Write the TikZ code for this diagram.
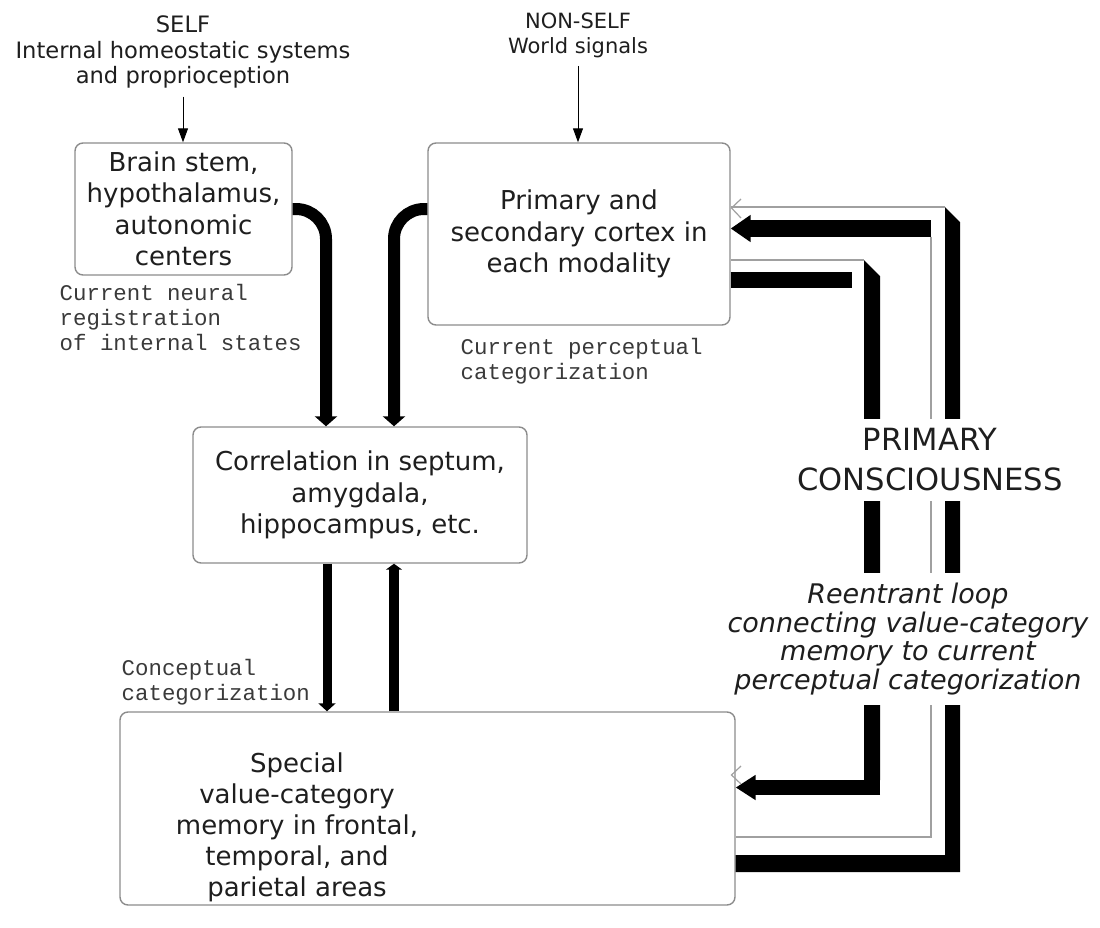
\documentclass[tikz,border=0pt]{standalone}
\usepackage{fontspec}
\setmainfont{DejaVu Sans}
\setmonofont{Liberation Mono}
\usetikzlibrary{arrows.meta,positioning,calc}

\definecolor{boxgray}{HTML}{8C8C8C}
\definecolor{edgegray}{HTML}{A0A0A0}
\definecolor{ink}{HTML}{1E1E1E}
\definecolor{noteink}{HTML}{3A3A3A}

\tikzset{
    region/.style={draw=boxgray,line width=0.7pt,rounded corners=4pt,align=center,text=ink,inner sep=0pt,font=\fontsize{13}{15.75}\selectfont},
    regiontext/.style={align=center,text=ink,inner sep=0pt,font=\fontsize{13}{15.5}\selectfont},
    note/.style={align=left,text=noteink,inner sep=0pt,font=\ttfamily\fontsize{11.2}{12.5}\selectfont},
    source/.style={align=center,text=ink,inner sep=0pt,font=\fontsize{10.5}{12.5}\selectfont},
    thin arrow/.style={-{Triangle[width=5pt,length=7pt]},line width=0.5pt},
    fat arrow/.style={-{Triangle[width=11pt,length=5pt]},line width=6pt,rounded corners=15pt},
    bar arrow/.style={-{Triangle[width=8.5pt,length=4pt]},line width=4.5pt},
    edge/.style={draw=edgegray,line width=0.6pt},
}

\begin{document}
\begin{tikzpicture}[x=0.5pt,y=-0.5pt]
\useasboundingbox (0,0) rectangle (1100,928);

% boxes
\node[region,minimum width=108.5pt,minimum height=66pt] (bs) at (183.5,209) {Brain stem,\\hypothalamus,\\autonomic\\centers};
\node[region,minimum width=151pt,minimum height=91pt] (prim) at (579,234) {Primary and\\secondary cortex in\\each modality};
\node[region,minimum width=167pt,minimum height=68pt] (corr) at (360,495) {Correlation in septum,\\amygdala,\\hippocampus, etc.};
\node[region,minimum width=307.5pt,minimum height=96.5pt] (mem) at (427.5,808.5) {};
\node[regiontext] (memtext) at (297,827) {Special\\value-category\\memory in frontal,\\temporal, and\\parietal areas};

% inputs
\node[source,font=\fontsize{11.3}{12.75}\selectfont] (self) at (183,52) {SELF\\Internal homeostatic systems\\and proprioception};
\node[source] (nonself) at (578,35) {NON-SELF\\World signals};
\draw[thin arrow] ([yshift=-4pt]self.south) -- (self.south |- bs.north);
\draw[thin arrow] ([yshift=-4pt]nonself.south) -- (nonself.south |- prim.north);

% notes
\node[note,below right=4pt and -7.5pt of bs.south west] (neural) {Current neural\\registration\\of internal states};
\node[note,below right=6pt and 16.5pt of prim.south west] (percept) {Current perceptual\\categorization};
\node[note,above right=3pt and 1pt of mem.north west] (concept) {Conceptual\\categorization};

% into the correlation box
\draw[fat arrow] (bs.east) -| ([xshift=-17pt]corr.north);
\draw[fat arrow] ([yshift=12.5pt]prim.west) -| ([xshift=17pt]corr.north);

% between correlation and memory
\draw[bar arrow] ([xshift=-16.5pt]corr.south) -- ([xshift=-16.5pt]corr.south |- mem.north);
\draw[bar arrow,-{Triangle[width=8pt,length=3pt]},line width=5pt] ([xshift=17pt]corr.south |- mem.north) -- ([xshift=17pt]corr.south);

% reentrant loop, outer ribbon: memory -> cortex
\draw[edge] (prim.east |- 0,207) -- (945,207);
\draw[edge] (931,237) -- (931,837) -- (mem.east |- 0,837);
\draw[edge] (741,199) -- (731.5,208) -- (741,218);
\fill (945,207) -- (960,222) -- (960,872) -- (mem.east |- 0,872) -- (mem.east |- 0,855) -- (945,855) -- cycle;
\draw[line width=8.5pt,-{Triangle[width=13pt,length=10pt]}] (931,228.5) -- (prim.east |- 0,228.5);

% reentrant loop, inner ribbon: cortex -> memory
\draw[edge] (prim.east |- 0,260) -- (864,260);
\draw[line width=8pt] (prim.east |- 0,280) -- (852,280);
\fill (864,260) -- (880,276) -- (880,780) -- (864,780) -- cycle;
\draw[line width=7.5pt,-{Triangle[width=12pt,length=10pt]}] (880,787.5) -- (mem.east |- 0,787.5);
\draw[edge] (741,766) -- (731.5,775) -- (741,784);

% loop labels
\node[fill=white,align=center,text=ink,inner xsep=2pt,inner ysep=5pt,font=\fontsize{15.3}{20}\selectfont] (pc) at (930,460) {PRIMARY\\CONSCIOUSNESS};
\node[fill=white,align=center,text=ink,inner xsep=2pt,inner ysep=5pt,font=\itshape\fontsize{13.5}{14.4}\selectfont] (reentry) at (908,639) {Reentrant loop\\connecting value-category\\memory to current\\perceptual categorization};
\end{tikzpicture}
\end{document}
